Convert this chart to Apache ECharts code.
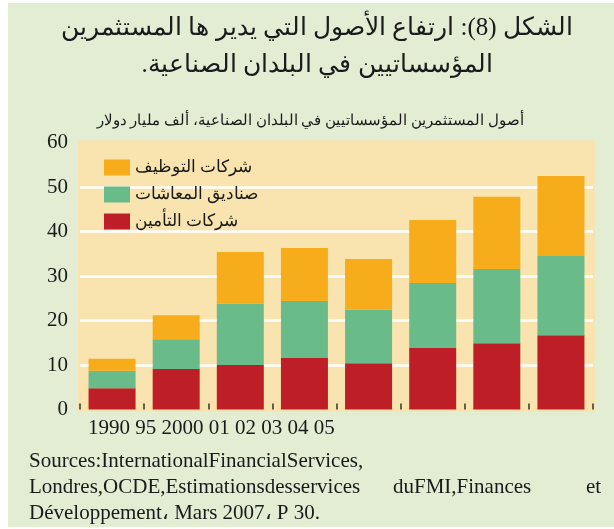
<!DOCTYPE html>
<html>
<head>
<meta charset="utf-8">
<script src="https://cdn.jsdelivr.net/npm/echarts@6/dist/echarts.min.js"></script>
<style>
  html, body { margin:0; padding:0; background:#ffffff; }
  #chart { width:614px; height:529px; }
</style>
</head>
<body>
<div id="chart"></div>
<script>
var years = ['1990', '95', '2000', '01', '02', '03', '04', '05'];
var insurance = [4.8, 9.1, 10.0, 11.6, 10.4, 13.8, 14.9, 16.7];
var pension = [3.9, 6.7, 13.8, 12.8, 12.0, 14.6, 16.7, 17.8];
var investment = [2.7, 5.4, 11.6, 11.9, 11.4, 14.2, 16.2, 18.0];
var seriesNames = ['شركات التوظيف', 'صناديق المعاشات', 'شركات التأمين'];

var serif = 'Liberation Serif';
var ink = '#1a1a1a';

var chart = echarts.init(document.getElementById('chart'));
chart.setOption({
  animation: false,
  backgroundColor: '#ffffff',
  textStyle: { fontFamily: serif, color: ink },
  graphic: [
    { type: 'rect', z: -10, shape: { x: 8, y: 3, width: 606, height: 524 }, style: { fill: '#e2edd4' } },
    { type: 'text', x: 317, y: 16, style: { text: 'الشكل (8): ارتفاع الأصول التي يدير ها المستثمرين', font: '25px ' + serif, fill: ink, align: 'center', verticalAlign: 'top' } },
    { type: 'text', x: 317, y: 53, style: { text: 'المؤسساتيين في البلدان الصناعية.\u200F', font: '25px ' + serif, fill: ink, align: 'center', verticalAlign: 'top' } },
    { type: 'text', x: 310, y: 114, style: { text: 'أصول المستثمرين المؤسساتيين في البلدان الصناعية، ألف مليار دولار', font: '15px ' + serif, fill: ink, align: 'center', verticalAlign: 'top' } },
    { type: 'text', left: 88, top: 418, style: { text: years.join(' '), font: '21px ' + serif, fill: ink } },
    { type: 'text', left: 29, top: 451, style: { text: 'Sources:InternationalFinancialServices,', font: '21px ' + serif, fill: ink } },
    { type: 'text', left: 29, top: 477, style: { text: 'Londres,OCDE,Estimationsdesservices', font: '21px ' + serif, fill: ink } },
    { type: 'text', left: 393, top: 477, style: { text: 'duFMI,Finances', font: '21px ' + serif, fill: ink } },
    { type: 'text', left: 586, top: 477, style: { text: 'et', font: '21px ' + serif, fill: ink } },
    { type: 'text', left: 29, top: 503, style: { text: 'Développement، Mars 2007، P 30.', font: '21px ' + serif, fill: ink } }
  ],
  legend: {
    data: seriesNames,
    orient: 'vertical',
    left: 99,
    top: 154,
    itemWidth: 26,
    itemHeight: 16,
    itemGap: 10,
    icon: 'rect',
    textStyle: { fontFamily: serif, fontSize: 17, color: ink }
  },
  grid: {
    left: 80, right: 21, top: 142.5, bottom: 119.5,
    show: true, backgroundColor: '#f9e3ae', borderColor: '#f9e3ae', borderWidth: 4
  },
  xAxis: {
    type: 'category',
    data: years,
    axisLine: { show: false },
    axisTick: { show: true, inside: true, length: 6, lineStyle: { color: '#333', width: 1.5 } },
    axisLabel: { show: false }
  },
  yAxis: {
    type: 'value',
    min: 0, max: 60, interval: 10,
    axisLine: { show: false },
    axisTick: { show: false },
    axisLabel: { fontFamily: serif, fontSize: 21, color: ink, margin: 12 },
    splitLine: { showMinLine: false, showMaxLine: false, lineStyle: { color: '#ffffff', width: 2.5 } }
  },
  series: [
    { name: seriesNames[2], type: 'bar', stack: 'a', data: insurance, barWidth: 47, itemStyle: { color: '#be1e26' } },
    { name: seriesNames[1], type: 'bar', stack: 'a', data: pension, itemStyle: { color: '#69bb8a' } },
    { name: seriesNames[0], type: 'bar', stack: 'a', data: investment, itemStyle: { color: '#f7ac1c' } }
  ]
});
</script>
</body>
</html>
